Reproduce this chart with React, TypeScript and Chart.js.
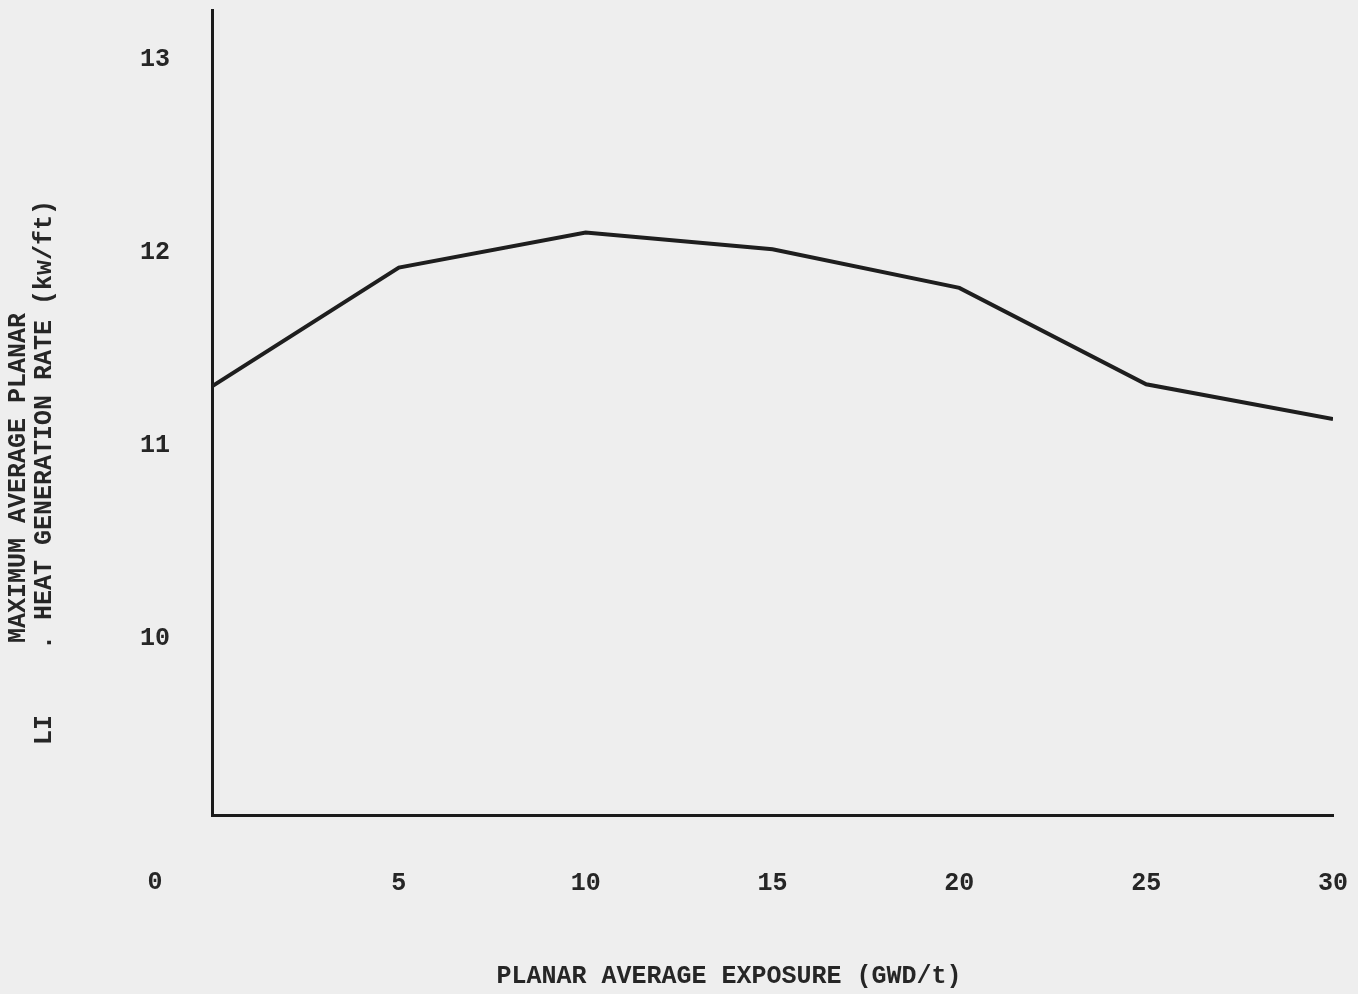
import React, { useEffect, useRef } from "react";
import { Chart, registerables } from "chart.js";

Chart.register(...registerables);

const exposure = [0, 5, 10, 15, 20, 25, 30];
const maplhgr = [11.31, 11.925, 12.107, 12.02, 11.82, 11.32, 11.14];
const xTickValues = [5, 10, 15, 20, 25, 30];
const yTickValues = [10, 11, 12, 13];
const originLabel = "0";
const xTitle = "PLANAR AVERAGE EXPOSURE (GWD/t)";
const yTitleLine1 = "MAXIMUM AVERAGE PLANAR";
const yTitleLine2 = ". HEAT GENERATION RATE (kw/ft)";
const stray = "LI";

const FONT = "'Liberation Mono', 'Courier New', monospace";
const INK = "#262626";
const BG = "#eeeeee";

export default function App() {
  const ref = useRef<HTMLCanvasElement | null>(null);

  useEffect(() => {
    document.body.style.margin = "0";
    document.body.style.background = BG;
    const canvas = ref.current!;
    const textPlugin = {
      id: "paperText",
      beforeDraw(chart: any) {
        const c = chart.ctx;
        c.save();
        c.fillStyle = BG;
        c.fillRect(0, 0, chart.width, chart.height);
        c.restore();
      },
      afterDraw(chart: any) {
        const c = chart.ctx;
        const xs = chart.scales.x;
        c.save();
        c.fillStyle = INK;
        c.font = `bold 25px ${FONT}`;
        c.textAlign = "center";
        c.textBaseline = "middle";
        c.fillText(originLabel, xs.left - 57, xs.top + 68);
        c.fillText(xTitle, 729, 977);
        const drawRot = (t: string, x: number, y: number) => {
          c.save();
          c.translate(x, y);
          c.rotate(-Math.PI / 2);
          c.fillText(t, 0, 0);
          c.restore();
        };
        drawRot(yTitleLine1, 19, 478);
        drawRot(yTitleLine2, 45, 425);
        drawRot(stray, 45, 730);
        c.restore();
      },
    };

    const chart = new Chart(canvas, {
      type: "line",
      data: {
        datasets: [
          {
            data: exposure.map((x, i) => ({ x, y: maplhgr[i] })),
            borderColor: "#1e1e1e",
            borderWidth: 4,
            pointRadius: 0,
            tension: 0,
            fill: false,
          },
        ],
      },
      options: {
        animation: false,
        responsive: false,
        events: [],
        layout: { padding: { left: 0, top: 10, right: 25, bottom: 0 } },
        plugins: { legend: { display: false }, tooltip: { enabled: false } },
        scales: {
          x: {
            type: "linear",
            min: 0,
            max: 30,
            grid: { display: false, drawTicks: false },
            border: { display: true, color: "#1a1a1a", width: 3 },
            afterBuildTicks: (s: any) => {
              s.ticks = xTickValues.map((v) => ({ value: v }));
            },
            afterFit: (s: any) => {
              s.height = 179;
              s.paddingLeft = 0;
              s.paddingRight = 0;
            },
            ticks: {
              color: INK,
              font: { family: FONT, size: 25, weight: "bold" },
              padding: 54,
              maxRotation: 0,
              autoSkip: false,
            },
          },
          y: {
            type: "linear",
            min: 9.088,
            max: 13.26,
            grid: { display: false, drawTicks: false },
            border: { display: true, color: "#1a1a1a", width: 3 },
            afterBuildTicks: (s: any) => {
              s.ticks = yTickValues.map((v) => ({ value: v }));
            },
            afterFit: (s: any) => {
              s.width = 212;
              s.paddingTop = 0;
              s.paddingBottom = 0;
            },
            ticks: {
              color: INK,
              font: { family: FONT, size: 25, weight: "bold" },
              padding: 42,
              autoSkip: false,
            },
          },
        },
      },
      plugins: [textPlugin],
    } as any);
    return () => chart.destroy();
  }, []);

  return <canvas ref={ref} width={1358} height={994} style={{ display: "block" }} />;
}
